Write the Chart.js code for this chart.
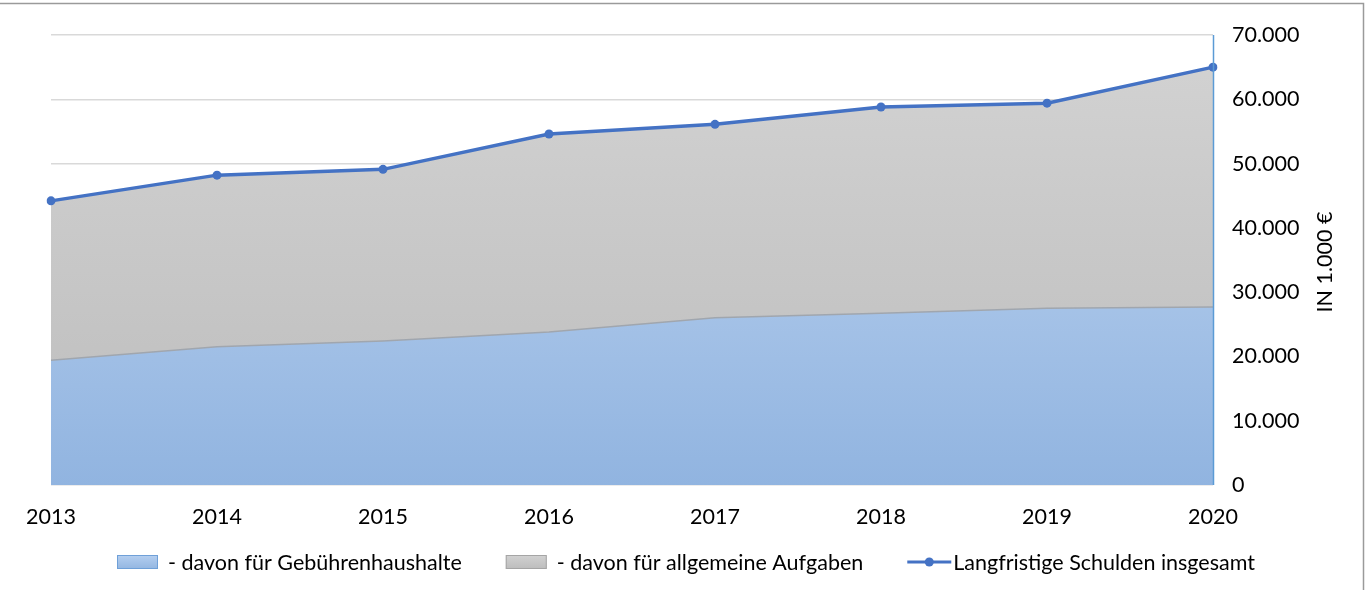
<!DOCTYPE html>
<html>
<head>
<meta charset="utf-8">
<script src="https://cdn.jsdelivr.net/npm/chart.js@4.4.1/dist/chart.umd.min.js"></script>
<style>
  html, body { margin: 0; padding: 0; background: #fff; }
  #wrap { width: 1372px; height: 590px; position: relative; }
</style>
</head>
<body>
<div id="wrap"><canvas id="c" width="1372" height="590"></canvas></div>
<script>
const years = ['2013', '2014', '2015', '2016', '2017', '2018', '2019', '2020'];
const gebuehren = [19400, 21500, 22400, 23800, 26000, 26700, 27500, 27700];
const allgemein = [24800, 26700, 26700, 30800, 30100, 32100, 31900, 37300];
const insgesamt = [44200, 48200, 49100, 54600, 56100, 58800, 59400, 65000];
const yTickLabels = ['0', '10.000', '20.000', '30.000', '40.000', '50.000', '60.000', '70.000'];
const seriesNames = ['- davon für Gebührenhaushalte', '- davon für allgemeine Aufgaben', 'Langfristige Schulden insgesamt'];
const axisTitle = 'IN 1.000 €';

const FONT = "Lato, 'Open Sans', sans-serif";
const FS = 21.5;

function vGrad(ctx, top, bottom, c1, c2) {
  const g = ctx.createLinearGradient(0, top, 0, bottom);
  g.addColorStop(0, c1);
  g.addColorStop(1, c2);
  return g;
}

const extras = {
  id: 'extras',
  afterDatasetsDraw(chart) {
    // right axis line drawn over the areas
    const ctx = chart.ctx;
    const a = chart.chartArea;
    ctx.save();
    ctx.strokeStyle = '#5b9bd5';
    ctx.lineWidth = 1.5;
    ctx.beginPath();
    ctx.moveTo(a.right + 0.5, a.top);
    ctx.lineTo(a.right + 0.5, a.bottom);
    ctx.stroke();
    ctx.restore();
  },
  afterDraw(chart) {
    const ctx = chart.ctx;
    const area = chart.chartArea;
    ctx.save();
    // frame
    ctx.strokeStyle = '#9a9a9a';
    ctx.lineWidth = 1.5;
    ctx.beginPath();
    ctx.moveTo(0, 3.5);
    ctx.lineTo(1363.5, 3.5);
    ctx.lineTo(1363.5, 590);
    ctx.stroke();

    // axis title (rotated, reading bottom to top)
    ctx.fillStyle = '#000';
    ctx.font = FS + 'px ' + FONT;
    ctx.textAlign = 'center';
    ctx.textBaseline = 'middle';
    ctx.translate(1325, (area.top + area.bottom) / 2 + 2);
    ctx.rotate(-Math.PI / 2);
    ctx.fillText(axisTitle, 0, 0);
    ctx.restore();

    // legend
    ctx.save();
    ctx.font = FS + 'px ' + FONT;
    ctx.textBaseline = 'middle';
    ctx.textAlign = 'left';
    const cy = 562;
    const items = [
      {kind: 'box', text: seriesNames[0], c1: '#b5cff0', c2: '#93b6e1', border: '#6fa0d8', sw: 41, gap: 10},
      {kind: 'box', text: seriesNames[1], c1: '#d2d2d2', c2: '#bdbdbd', border: '#a5a5a5', sw: 41, gap: 10},
      {kind: 'line', text: seriesNames[2], color: '#4472c4', sw: 44, gap: 2}
    ];
    const spacing = 44;
    let total = 0;
    items.forEach((it, i) => {
      it.w = ctx.measureText(it.text).width;
      total += it.sw + it.gap + it.w + (i ? spacing : 0);
    });
    let x = Math.round(chart.width / 2 - total / 2);
    items.forEach((it) => {
      if (it.kind === 'box') {
        ctx.fillStyle = vGrad(ctx, cy - 7, cy + 7, it.c1, it.c2);
        ctx.fillRect(x, cy - 7, it.sw, 14);
        ctx.strokeStyle = it.border;
        ctx.lineWidth = 1;
        ctx.strokeRect(x + 0.5, cy - 6.5, it.sw - 1, 13);
      } else {
        ctx.strokeStyle = it.color;
        ctx.lineWidth = 3;
        ctx.beginPath();
        ctx.moveTo(x, cy);
        ctx.lineTo(x + it.sw, cy);
        ctx.stroke();
        ctx.fillStyle = it.color;
        ctx.beginPath();
        ctx.arc(x + it.sw / 2, cy, 4.5, 0, Math.PI * 2);
        ctx.fill();
      }
      x += it.sw + it.gap;
      ctx.fillStyle = '#000';
      ctx.fillText(it.text, x, cy + 1);
      x += it.w + spacing;
    });
    ctx.restore();
  }
};

new Chart(document.getElementById('c'), {
  type: 'line',
  data: {
    labels: years,
    datasets: [
      {
        label: seriesNames[2],
        data: insgesamt,
        stack: 'total',
        order: 0,
        borderColor: '#4472c4',
        backgroundColor: '#4472c4',
        borderWidth: 3.5,
        pointRadius: 4.5,
        pointBackgroundColor: '#4472c4',
        pointBorderWidth: 0,
        fill: false,
        tension: 0
      },
      {
        label: seriesNames[0],
        data: gebuehren,
        stack: 'parts',
        order: 1,
        borderColor: '#a0a6ae',
        borderWidth: 1.5,
        pointRadius: 0,
        fill: 'origin',
        tension: 0,
        backgroundColor: (c) => {
          const a = c.chart.chartArea;
          if (!a) return '#a4c2e8';
          return vGrad(c.chart.ctx, a.top, a.bottom, '#c3d8f2', '#91b4e0');
        }
      },
      {
        label: seriesNames[1],
        data: allgemein,
        stack: 'parts',
        order: 1,
        borderColor: '#a5a5a5',
        borderWidth: 1.5,
        pointRadius: 0,
        fill: '-1',
        tension: 0,
        backgroundColor: (c) => {
          const a = c.chart.chartArea;
          if (!a) return '#c8c8c8';
          return vGrad(c.chart.ctx, a.top, a.bottom, '#d3d3d3', '#bcbcbc');
        }
      }
    ]
  },
  options: {
    responsive: false,
    animation: false,
    events: [],
    layout: { padding: { left: 51, top: 35, right: 0, bottom: 0 } },
    plugins: {
      legend: { display: false },
      tooltip: { enabled: false }
    },
    scales: {
      x: {
        type: 'category',
        offset: false,
        grid: { display: false, drawTicks: false, tickLength: 0 },
        border: { display: false },
        ticks: { color: '#000', font: { family: FONT, size: FS }, padding: 19, maxRotation: 0, autoSkip: false },
        afterFit: (s) => { s.height = 105; }
      },
      y: {
        position: 'right',
        stacked: true,
        min: 0,
        max: 70000,
        grid: { color: '#d9d9d9', lineWidth: 1.5, drawTicks: false, tickLength: 0 },
        border: { display: false },
        ticks: {
          stepSize: 10000,
          color: '#000',
          font: { family: FONT, size: FS },
          padding: 19,
          callback: (v, i) => yTickLabels[i]
        },
        afterFit: (s) => { s.width = 159; }
      }
    }
  },
  plugins: [extras]
});
</script>
</body>
</html>
